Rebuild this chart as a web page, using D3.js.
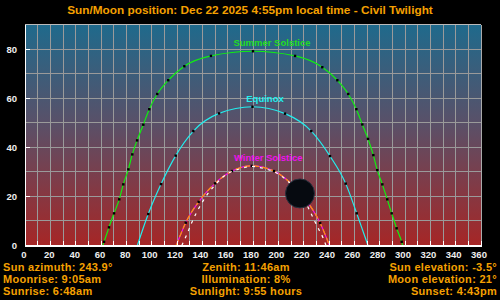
<!DOCTYPE html>
<html><head><meta charset="utf-8">
<script src="https://cdn.jsdelivr.net/npm/d3@7"></script>
<style>
html,body{margin:0;padding:0;background:#000;}
svg{display:block;}
</style></head>
<body>
<script>
// ---- data ----
const titleText = "Sun/Moon position: Dec 22 2025 4:55pm local time - Civil Twilight";
const xTicks = [0,20,40,60,80,100,120,140,160,180,200,220,240,260,280,300,320,340,360];
const yTicks = [0,20,40,60,80];

const summerAz = [61.3, 62.4, 66.3, 70.3, 74.4, 77.6, 81.6, 84.7, 88.5, 93.4, 98.1, 104.4, 113.1, 125.8, 146.8, 180, 213.2, 234.7, 246.6, 255.2, 261.6, 266.3, 270.8, 275.0, 278.1, 282.1, 286.0, 289.5, 293.4, 297.4, 298.2];
const summerEl = [0, 1.5, 7.4, 13.1, 18.8, 24.9, 31.0, 37.1, 42.8, 49.2, 55.5, 61.7, 67.3, 73.0, 77.2, 79.1, 77.2, 72.6, 67.3, 61.7, 55.5, 49.3, 43.4, 36.8, 30.7, 24.9, 18.8, 13.1, 7.0, 1.5, 0];

const equinoxAz = [88.7, 97.3, 107.4, 119.0, 132.9, 153.2, 179.6, 205.3, 226.0, 240.8, 253.2, 261.9, 270.8];
const equinoxEl = [0, 12.8, 25.0, 36.6, 46.6, 53.8, 56.5, 53.7, 46.6, 36.4, 25.2, 13.1, 0];

const winterAz = [119.4, 126.9, 137.1, 150.0, 163.4, 179.0, 196.6, 210.0, 222.9, 233.0, 240.4];
const winterEl = [0, 9.3, 17.8, 25.3, 30.3, 32.4, 30.3, 25.3, 17.8, 9.2, 0];

const todayAz = [119.4, 126.9, 137.1, 150.0, 163.4, 179.0, 196.6, 210.0, 222.9, 233.0, 240.4];
const todayEl = [0, 9.3, 17.8, 25.3, 30.3, 32.4, 30.3, 25.3, 17.8, 9.2, 0];

const moonAz = [123.8, 127.6, 131.6, 139.5, 143.9, 150.0, 156.5, 171.0, 179.0, 185.5, 201.3, 212.0, 217.1, 223.0, 227.6, 231.5, 235.5, 237.6];
const moonEl = [0, 4.3, 9.3, 17.2, 20.8, 24.6, 28.0, 31.4, 32.2, 31.7, 28.7, 24.0, 21.2, 16.0, 11.1, 7.0, 2.9, 0];

const moonNowAz = 217.1, moonNowEl = 21.2;

const curveLabels = ["Summer Solstice", "Equinox", "Winter Solstice"];

const infoLeft = ["Sun azimuth: 243.9°", "Moonrise: 9:05am", "Sunrise: 6:48am"];
const infoCenter = ["Zenith: 11:46am", "Illumination: 8%", "Sunlight: 9:55 hours"];
const infoRight = ["Sun elevation: -3.5°", "Moon elevation: 21°", "Sunset: 4:43pm"];

// ---- drawing ----
const W = 500, H = 300;
const svg = d3.select("body").append("svg").attr("width", W).attr("height", H)
  .style("font-family", "'Liberation Sans', Arial, sans-serif");
svg.append("rect").attr("width", W).attr("height", H).attr("fill", "#000");

const x = d3.scaleLinear().domain([0, 360]).range([25, 481]);
const y = d3.scaleLinear().domain([0, 90]).range([245.5, 24.5]);

const defs = svg.append("defs");
const grad = defs.append("linearGradient").attr("id", "bg").attr("x1", 0).attr("y1", 0).attr("x2", 0).attr("y2", 1);
grad.append("stop").attr("offset", "0%").attr("stop-color", "#1f6a8c");
grad.append("stop").attr("offset", "45%").attr("stop-color", "#5a5068");
grad.append("stop").attr("offset", "100%").attr("stop-color", "#a62626");

svg.append("rect").attr("x", x(0)).attr("y", y(90)).attr("width", x(360) - x(0)).attr("height", y(0) - y(90))
  .attr("fill", "url(#bg)");

// grid
const gGrid = svg.append("g").attr("stroke", "#9a9a9a").attr("stroke-width", 1).attr("shape-rendering", "crispEdges");
gGrid.selectAll("line.v").data(d3.range(10, 361, 10)).join("line")
  .attr("x1", d => x(d)).attr("x2", d => x(d)).attr("y1", y(90)).attr("y2", y(0));
gGrid.selectAll("line.h").data(d3.range(10, 91, 10)).join("line").attr("class", "h")
  .attr("x1", x(0)).attr("x2", x(360)).attr("y1", d => y(d)).attr("y2", d => y(d));

// curves
const line = d3.line().x(d => x(d[0])).y(d => y(d[1])).curve(d3.curveMonotoneX);
const zip = (a, b) => a.map((v, i) => [v, b[i]]);

function drawCurve(az, el, color, dash, markers) {
  const pts = zip(az, el);
  svg.append("path").attr("d", line(pts)).attr("fill", "none").attr("stroke", color)
    .attr("stroke-width", 1.2).attr("stroke-dasharray", dash || null);
  if (markers) {
    svg.append("g").selectAll("rect").data(pts.slice(1, -1)).join("rect")
      .attr("x", d => x(d[0]) - 1.2).attr("y", d => y(d[1]) - 1.2)
      .attr("width", 2.4).attr("height", 2.4).attr("fill", "#000");
  }
}
drawCurve(summerAz, summerEl, "#11ee11", null, true);
drawCurve(equinoxAz, equinoxEl, "#22eeee", null, true);
drawCurve(winterAz, winterEl, "#ee11ee", null, false);
drawCurve(todayAz, todayEl, "#ff9900", "6,3", true);
drawCurve(moonAz, moonEl, "#ffffff", "3,5", false);

// curve labels (placed just above each curve's peak)
const peaks = [[180 + 15, d3.max(summerEl), "#22dd22"], [180 + 9.5, d3.max(equinoxEl), "#22eeee"], [180 + 12, d3.max(winterEl), "#ee11ee"]];
svg.append("g").selectAll("text").data(curveLabels).join("text")
  .attr("x", (d, i) => x(peaks[i][0])).attr("y", (d, i) => y(peaks[i][1]) - 5)
  .attr("text-anchor", "middle").attr("font-size", "9.5px").attr("font-weight", "bold")
  .attr("fill", (d, i) => peaks[i][2]).text(d => d);

// moon
svg.append("circle").attr("cx", x(moonNowAz)).attr("cy", y(moonNowEl)).attr("r", 14.5)
  .attr("fill", "#060a10").attr("stroke", "#28303e").attr("stroke-width", 1);

// axes lines
svg.append("line").attr("x1", x(0)).attr("x2", x(360)).attr("y1", y(90)).attr("y2", y(90))
  .attr("stroke", "#bbbbbb").attr("shape-rendering", "crispEdges");
svg.append("line").attr("x1", x(360)).attr("x2", x(360)).attr("y1", y(90)).attr("y2", y(0))
  .attr("stroke", "#aaaaaa").attr("shape-rendering", "crispEdges");
svg.append("line").attr("x1", x(0)).attr("x2", x(0)).attr("y1", y(90)).attr("y2", y(0) + 1)
  .attr("stroke", "#ffffff").attr("shape-rendering", "crispEdges");
svg.append("rect").attr("x", x(0)).attr("y", y(0) - 0.5).attr("width", x(360) - x(0) + 1).attr("height", 2)
  .attr("fill", "#ffffff").attr("shape-rendering", "crispEdges");

// ticks
const gT = svg.append("g").attr("stroke", "#ffffff").attr("shape-rendering", "crispEdges");
gT.selectAll("line.bx").data(d3.range(0, 361, 10)).join("line")
  .attr("x1", d => x(d)).attr("x2", d => x(d)).attr("y1", y(0)).attr("y2", y(0) - 5);
gT.selectAll("line.ly").data(yTicks).join("line").attr("class", "ly")
  .attr("x1", x(0)).attr("x2", x(0) + 5).attr("y1", d => y(d)).attr("y2", d => y(d));

// tick labels
svg.append("g").selectAll("text").data(xTicks).join("text")
  .attr("x", d => x(d) - (d >= 100 ? 2 : 1)).attr("y", 257.5)
  .attr("text-anchor", "middle").attr("font-size", "9.5px").attr("font-weight", "bold")
  .attr("fill", "#eeeeee").text(d => d);
svg.append("g").selectAll("text").data(yTicks).join("text")
  .attr("x", 17).attr("y", d => y(d) + 3.5)
  .attr("text-anchor", "end").attr("font-size", "9.5px").attr("font-weight", "bold")
  .attr("fill", "#eeeeee").text(d => d);

// title
svg.append("text").attr("x", 250).attr("y", 13.5).attr("text-anchor", "middle")
  .attr("font-size", "11.8px").attr("font-weight", "bold").attr("fill", "#f5a000").text(titleText);

// info rows
const rowY = [270.5, 282.8, 295.1];
const info = svg.append("g").attr("font-size", "11px").attr("font-weight", "bold")
  .attr("letter-spacing", "0.3px").attr("fill", "#f5a000");
info.selectAll("text.l").data(infoLeft).join("text").attr("class", "l")
  .attr("x", 3).attr("y", (d, i) => rowY[i]).attr("text-anchor", "start").text(d => d);
info.selectAll("text.c").data(infoCenter).join("text").attr("class", "c")
  .attr("x", 246).attr("y", (d, i) => rowY[i]).attr("text-anchor", "middle").text(d => d);
info.selectAll("text.r").data(infoRight).join("text").attr("class", "r")
  .attr("x", 497).attr("y", (d, i) => rowY[i]).attr("text-anchor", "end").text(d => d);
</script>
</body></html>
